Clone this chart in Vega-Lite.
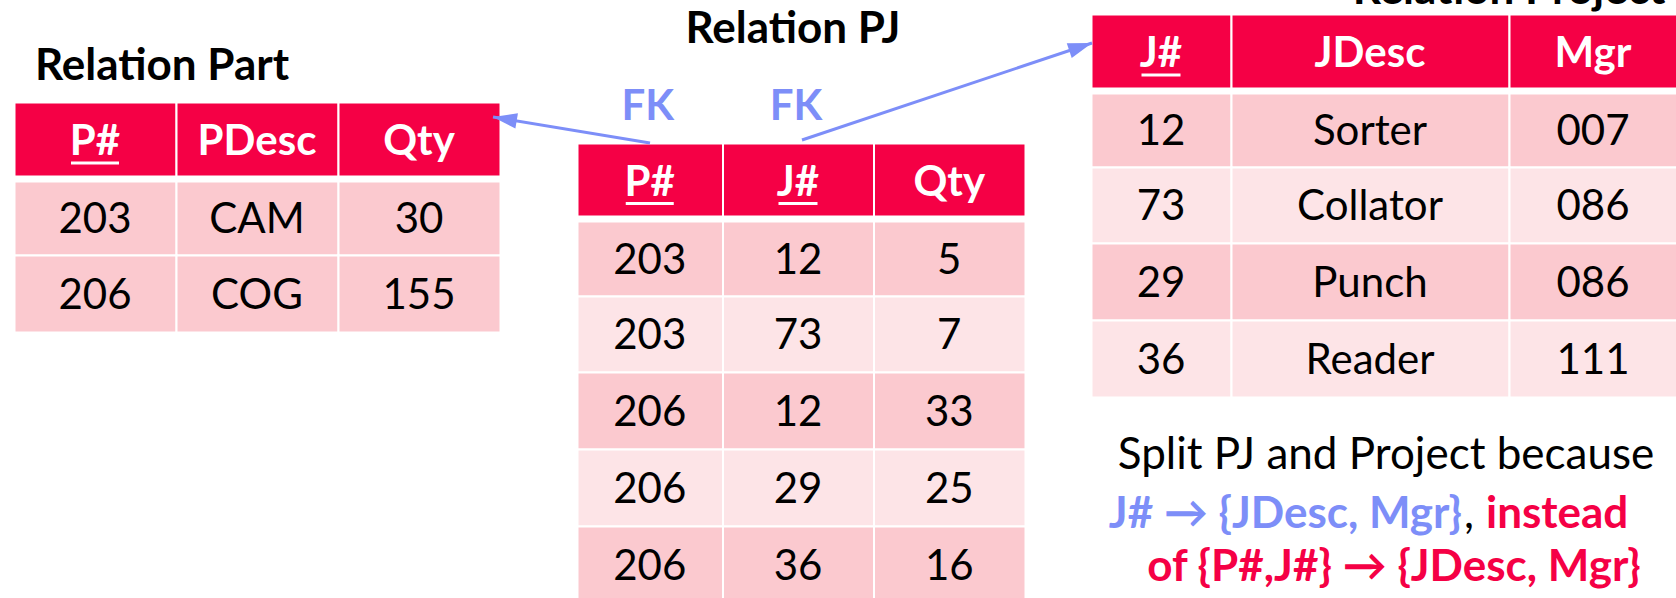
{
  "$schema": "https://vega.github.io/schema/vega-lite/v6.json",
  "width": 1676,
  "height": 598,
  "padding": 0,
  "autosize": {"type": "none"},
  "background": "white",
  "config": {"view": {"stroke": null}, "text": {"font": "Lato"}},
  "datasets": {
    "cells": [
      {"table": "Part", "r": 0, "c": 0, "v": "P#", "key": true},
      {"table": "Part", "r": 0, "c": 1, "v": "PDesc", "key": false},
      {"table": "Part", "r": 0, "c": 2, "v": "Qty", "key": false},
      {"table": "Part", "r": 1, "c": 0, "v": "203"},
      {"table": "Part", "r": 1, "c": 1, "v": "CAM"},
      {"table": "Part", "r": 1, "c": 2, "v": "30"},
      {"table": "Part", "r": 2, "c": 0, "v": "206"},
      {"table": "Part", "r": 2, "c": 1, "v": "COG"},
      {"table": "Part", "r": 2, "c": 2, "v": "155"},
      {"table": "PJ", "r": 0, "c": 0, "v": "P#", "key": true},
      {"table": "PJ", "r": 0, "c": 1, "v": "J#", "key": true},
      {"table": "PJ", "r": 0, "c": 2, "v": "Qty", "key": false},
      {"table": "PJ", "r": 1, "c": 0, "v": "203"},
      {"table": "PJ", "r": 1, "c": 1, "v": "12"},
      {"table": "PJ", "r": 1, "c": 2, "v": "5"},
      {"table": "PJ", "r": 2, "c": 0, "v": "203"},
      {"table": "PJ", "r": 2, "c": 1, "v": "73"},
      {"table": "PJ", "r": 2, "c": 2, "v": "7"},
      {"table": "PJ", "r": 3, "c": 0, "v": "206"},
      {"table": "PJ", "r": 3, "c": 1, "v": "12"},
      {"table": "PJ", "r": 3, "c": 2, "v": "33"},
      {"table": "PJ", "r": 4, "c": 0, "v": "206"},
      {"table": "PJ", "r": 4, "c": 1, "v": "29"},
      {"table": "PJ", "r": 4, "c": 2, "v": "25"},
      {"table": "PJ", "r": 5, "c": 0, "v": "206"},
      {"table": "PJ", "r": 5, "c": 1, "v": "36"},
      {"table": "PJ", "r": 5, "c": 2, "v": "16"},
      {"table": "Project", "r": 0, "c": 0, "v": "J#", "key": true},
      {"table": "Project", "r": 0, "c": 1, "v": "JDesc", "key": false},
      {"table": "Project", "r": 0, "c": 2, "v": "Mgr", "key": false},
      {"table": "Project", "r": 1, "c": 0, "v": "12"},
      {"table": "Project", "r": 1, "c": 1, "v": "Sorter"},
      {"table": "Project", "r": 1, "c": 2, "v": "007"},
      {"table": "Project", "r": 2, "c": 0, "v": "73"},
      {"table": "Project", "r": 2, "c": 1, "v": "Collator"},
      {"table": "Project", "r": 2, "c": 2, "v": "086"},
      {"table": "Project", "r": 3, "c": 0, "v": "29"},
      {"table": "Project", "r": 3, "c": 1, "v": "Punch"},
      {"table": "Project", "r": 3, "c": 2, "v": "086"},
      {"table": "Project", "r": 4, "c": 0, "v": "36"},
      {"table": "Project", "r": 4, "c": 1, "v": "Reader"},
      {"table": "Project", "r": 4, "c": 2, "v": "111"}
    ],
    "labels": [
      {"table": "Part", "kind": "title", "c": 0, "r": -1, "text": "Relation Part"},
      {"table": "PJ", "kind": "title", "c": 1, "r": -2, "text": "Relation PJ"},
      {"table": "PJ", "kind": "fk", "c": 0, "r": -1, "text": "FK"},
      {"table": "PJ", "kind": "fk", "c": 1, "r": -1, "text": "FK"},
      {"table": "Project", "kind": "title", "c": 2, "r": -1, "text": "Relation Project"}
    ],
    "arrows": [
      {"arrow": "P#", "a": 0},
      {"arrow": "P#", "a": 1},
      {"arrow": "J#", "a": 2},
      {"arrow": "J#", "a": 3}
    ],
    "notes": [
      {"a": 4, "seg": "lead", "tone": "plain", "text": "Split PJ and Project because"},
      {"a": 5, "seg": "fd", "tone": "fd", "text": "J# → {JDesc, Mgr}"},
      {"a": 5, "seg": "comma", "tone": "plain", "text": ","},
      {"a": 5, "seg": "instead", "tone": "bad", "text": "instead"},
      {"a": 6, "seg": "tail", "tone": "bad", "text": "of {P#,J#} → {JDesc, Mgr}"}
    ]
  },
  "layer": [
    {
      "layer": [
        {
          "data": {"name": "cells"},
          "transform": [{"filter": "datum.table === 'Part' && datum.r === 0"}],
          "mark": {"type": "rect", "fill": "#F50045", "stroke": "white", "strokeWidth": 2, "binSpacing": 0, "yOffset": -5, "y2Offset": -5},
          "encoding": {
            "x": {"field": "c", "type": "quantitative", "bin": {"step": 1, "extent": [0, 3]}, "scale": {"domain": [0, 1, 2, 3], "range": [14, 176, 338, 500], "zero": false, "nice": false}, "axis": null},
            "y": {"field": "r", "type": "quantitative", "bin": {"step": 1, "extent": [0, 3]}, "scale": {"domain": [-1, 0, 1, 2, 3], "range": [80, 107, 181, 255, 332], "zero": false, "nice": false}, "axis": null}
          }
        },
        {
          "data": {"name": "cells"},
          "transform": [{"filter": "datum.table === 'Part' && datum.r > 0"}],
          "mark": {"type": "rect", "stroke": "white", "strokeWidth": 2, "binSpacing": 0},
          "encoding": {
            "x": {"field": "c", "type": "quantitative", "bin": {"step": 1, "extent": [0, 3]}, "scale": {"domain": [0, 1, 2, 3], "range": [14, 176, 338, 500], "zero": false, "nice": false}, "axis": null},
            "y": {"field": "r", "type": "quantitative", "bin": {"step": 1, "extent": [0, 3]}, "scale": {"domain": [-1, 0, 1, 2, 3], "range": [80, 107, 181, 255, 332], "zero": false, "nice": false}, "axis": null},
            "fill": {"field": "r", "type": "ordinal", "scale": {"domain": [1, 2], "range": ["#FBC9CF", "#FBC9CF"]}, "legend": null}
          }
        },
        {
          "data": {"name": "cells"},
          "transform": [{"filter": "datum.table === 'Part' && datum.r === 0"}],
          "mark": {"type": "text", "font": "Lato", "fontSize": 42, "fontWeight": "bold", "fill": "white", "align": "center", "baseline": "alphabetic", "dy": 11},
          "encoding": {
            "x": {"field": "c", "type": "quantitative", "bin": {"step": 1, "extent": [0, 3]}, "scale": {"domain": [0, 1, 2, 3], "range": [14, 176, 338, 500], "zero": false, "nice": false}, "axis": null},
            "y": {"field": "r", "type": "quantitative", "bin": {"step": 1, "extent": [0, 3]}, "scale": {"domain": [-1, 0, 1, 2, 3], "range": [80, 107, 181, 255, 332], "zero": false, "nice": false}, "axis": null},
            "text": {"field": "v"}
          }
        },
        {
          "data": {"name": "cells"},
          "transform": [{"filter": "datum.table === 'Part' && datum.r > 0"}],
          "mark": {"type": "text", "font": "Lato", "fontSize": 42, "fill": "black", "align": "center", "baseline": "alphabetic", "dy": 15},
          "encoding": {
            "x": {"field": "c", "type": "quantitative", "bin": {"step": 1, "extent": [0, 3]}, "scale": {"domain": [0, 1, 2, 3], "range": [14, 176, 338, 500], "zero": false, "nice": false}, "axis": null},
            "y": {"field": "r", "type": "quantitative", "bin": {"step": 1, "extent": [0, 3]}, "scale": {"domain": [-1, 0, 1, 2, 3], "range": [80, 107, 181, 255, 332], "zero": false, "nice": false}, "axis": null},
            "text": {"field": "v"}
          }
        },
        {
          "data": {"name": "cells"},
          "transform": [{"filter": "datum.table === 'Part' && datum.r === 0 && datum.key && datum.v === 'P#'"}],
          "mark": {"type": "tick", "orient": "horizontal", "size": 48, "thickness": 3, "color": "white", "opacity": 1, "yOffset": 19},
          "encoding": {
            "x": {"field": "c", "type": "quantitative", "bin": {"step": 1, "extent": [0, 3]}, "scale": {"domain": [0, 1, 2, 3], "range": [14, 176, 338, 500], "zero": false, "nice": false}, "axis": null},
            "y": {"field": "r", "type": "quantitative", "bin": {"step": 1, "extent": [0, 3]}, "scale": {"domain": [-1, 0, 1, 2, 3], "range": [80, 107, 181, 255, 332], "zero": false, "nice": false}, "axis": null}
          }
        },
        {
          "data": {"name": "labels"},
          "transform": [{"filter": "datum.table === 'Part'"}],
          "mark": {"type": "text", "font": "Lato", "fontSize": 44, "fontWeight": "bold", "fill": "black", "align": "left", "baseline": "alphabetic", "dx": 21},
          "encoding": {
            "x": {"field": "c", "type": "quantitative", "scale": {"domain": [0, 1, 2, 3], "range": [14, 176, 338, 500], "zero": false, "nice": false}, "axis": null},
            "y": {"field": "r", "type": "quantitative", "scale": {"domain": [-1, 0, 1, 2, 3], "range": [80, 107, 181, 255, 332], "zero": false, "nice": false}, "axis": null},
            "text": {"field": "text"}
          }
        }
      ]
    },
    {
      "layer": [
        {
          "data": {"name": "cells"},
          "transform": [{"filter": "datum.table === 'PJ' && datum.r === 0"}],
          "mark": {"type": "rect", "fill": "#F50045", "stroke": "white", "strokeWidth": 2, "binSpacing": 0, "yOffset": -5, "y2Offset": -5},
          "encoding": {
            "x": {"field": "c", "type": "quantitative", "bin": {"step": 1, "extent": [0, 3]}, "scale": {"domain": [0, 1, 2, 3], "range": [577, 722.5, 873.5, 1025], "zero": false, "nice": false}, "axis": null},
            "y": {"field": "r", "type": "quantitative", "bin": {"step": 1, "extent": [0, 6]}, "scale": {"domain": [-2, -1, 0, 1, 2, 3, 4, 5, 6], "range": [43, 120, 148, 221, 296, 372, 449, 526, 604], "zero": false, "nice": false}, "axis": null}
          }
        },
        {
          "data": {"name": "cells"},
          "transform": [{"filter": "datum.table === 'PJ' && datum.r > 0"}],
          "mark": {"type": "rect", "stroke": "white", "strokeWidth": 2, "binSpacing": 0},
          "encoding": {
            "x": {"field": "c", "type": "quantitative", "bin": {"step": 1, "extent": [0, 3]}, "scale": {"domain": [0, 1, 2, 3], "range": [577, 722.5, 873.5, 1025], "zero": false, "nice": false}, "axis": null},
            "y": {"field": "r", "type": "quantitative", "bin": {"step": 1, "extent": [0, 6]}, "scale": {"domain": [-2, -1, 0, 1, 2, 3, 4, 5, 6], "range": [43, 120, 148, 221, 296, 372, 449, 526, 604], "zero": false, "nice": false}, "axis": null},
            "fill": {"field": "r", "type": "ordinal", "scale": {"domain": [1, 2, 3, 4, 5], "range": ["#FBC9CF", "#FDE4E7", "#FBC9CF", "#FDE4E7", "#FBC9CF"]}, "legend": null}
          }
        },
        {
          "data": {"name": "cells"},
          "transform": [{"filter": "datum.table === 'PJ' && datum.r === 0"}],
          "mark": {"type": "text", "font": "Lato", "fontSize": 42, "fontWeight": "bold", "fill": "white", "align": "center", "baseline": "alphabetic", "dy": 11},
          "encoding": {
            "x": {"field": "c", "type": "quantitative", "bin": {"step": 1, "extent": [0, 3]}, "scale": {"domain": [0, 1, 2, 3], "range": [577, 722.5, 873.5, 1025], "zero": false, "nice": false}, "axis": null},
            "y": {"field": "r", "type": "quantitative", "bin": {"step": 1, "extent": [0, 6]}, "scale": {"domain": [-2, -1, 0, 1, 2, 3, 4, 5, 6], "range": [43, 120, 148, 221, 296, 372, 449, 526, 604], "zero": false, "nice": false}, "axis": null},
            "text": {"field": "v"}
          }
        },
        {
          "data": {"name": "cells"},
          "transform": [{"filter": "datum.table === 'PJ' && datum.r > 0"}],
          "mark": {"type": "text", "font": "Lato", "fontSize": 42, "fill": "black", "align": "center", "baseline": "alphabetic", "dy": 15},
          "encoding": {
            "x": {"field": "c", "type": "quantitative", "bin": {"step": 1, "extent": [0, 3]}, "scale": {"domain": [0, 1, 2, 3], "range": [577, 722.5, 873.5, 1025], "zero": false, "nice": false}, "axis": null},
            "y": {"field": "r", "type": "quantitative", "bin": {"step": 1, "extent": [0, 6]}, "scale": {"domain": [-2, -1, 0, 1, 2, 3, 4, 5, 6], "range": [43, 120, 148, 221, 296, 372, 449, 526, 604], "zero": false, "nice": false}, "axis": null},
            "text": {"field": "v"}
          }
        },
        {
          "data": {"name": "cells"},
          "transform": [{"filter": "datum.table === 'PJ' && datum.r === 0 && datum.key && datum.v === 'P#'"}],
          "mark": {"type": "tick", "orient": "horizontal", "size": 48, "thickness": 3, "color": "white", "opacity": 1, "yOffset": 19},
          "encoding": {
            "x": {"field": "c", "type": "quantitative", "bin": {"step": 1, "extent": [0, 3]}, "scale": {"domain": [0, 1, 2, 3], "range": [577, 722.5, 873.5, 1025], "zero": false, "nice": false}, "axis": null},
            "y": {"field": "r", "type": "quantitative", "bin": {"step": 1, "extent": [0, 6]}, "scale": {"domain": [-2, -1, 0, 1, 2, 3, 4, 5, 6], "range": [43, 120, 148, 221, 296, 372, 449, 526, 604], "zero": false, "nice": false}, "axis": null}
          }
        },
        {
          "data": {"name": "cells"},
          "transform": [{"filter": "datum.table === 'PJ' && datum.r === 0 && datum.key && datum.v === 'J#'"}],
          "mark": {"type": "tick", "orient": "horizontal", "size": 39, "thickness": 3, "color": "white", "opacity": 1, "yOffset": 19},
          "encoding": {
            "x": {"field": "c", "type": "quantitative", "bin": {"step": 1, "extent": [0, 3]}, "scale": {"domain": [0, 1, 2, 3], "range": [577, 722.5, 873.5, 1025], "zero": false, "nice": false}, "axis": null},
            "y": {"field": "r", "type": "quantitative", "bin": {"step": 1, "extent": [0, 6]}, "scale": {"domain": [-2, -1, 0, 1, 2, 3, 4, 5, 6], "range": [43, 120, 148, 221, 296, 372, 449, 526, 604], "zero": false, "nice": false}, "axis": null}
          }
        },
        {
          "data": {"name": "labels"},
          "transform": [{"filter": "datum.table === 'PJ' && datum.kind === 'title'"}],
          "mark": {"type": "text", "font": "Lato", "fontSize": 44, "fontWeight": "bold", "fill": "black", "align": "center", "baseline": "alphabetic", "dx": -5},
          "encoding": {
            "x": {"field": "c", "type": "quantitative", "bin": {"step": 1, "extent": [0, 3]}, "scale": {"domain": [0, 1, 2, 3], "range": [577, 722.5, 873.5, 1025], "zero": false, "nice": false}, "axis": null},
            "y": {"field": "r", "type": "quantitative", "scale": {"domain": [-2, -1, 0, 1, 2, 3, 4, 5, 6], "range": [43, 120, 148, 221, 296, 372, 449, 526, 604], "zero": false, "nice": false}, "axis": null},
            "text": {"field": "text"}
          }
        },
        {
          "data": {"name": "labels"},
          "transform": [{"filter": "datum.table === 'PJ' && datum.kind === 'fk'"}],
          "mark": {"type": "text", "font": "Lato", "fontSize": 42, "fontWeight": "bold", "fill": "#7D8EF8", "align": "center", "baseline": "alphabetic", "dx": -2},
          "encoding": {
            "x": {"field": "c", "type": "quantitative", "bin": {"step": 1, "extent": [0, 3]}, "scale": {"domain": [0, 1, 2, 3], "range": [577, 722.5, 873.5, 1025], "zero": false, "nice": false}, "axis": null},
            "y": {"field": "r", "type": "quantitative", "scale": {"domain": [-2, -1, 0, 1, 2, 3, 4, 5, 6], "range": [43, 120, 148, 221, 296, 372, 449, 526, 604], "zero": false, "nice": false}, "axis": null},
            "text": {"field": "text"}
          }
        }
      ]
    },
    {
      "layer": [
        {
          "data": {"name": "cells"},
          "transform": [{"filter": "datum.table === 'Project' && datum.r === 0"}],
          "mark": {"type": "rect", "fill": "#F50045", "stroke": "white", "strokeWidth": 2, "binSpacing": 0, "yOffset": -5, "y2Offset": -5},
          "encoding": {
            "x": {"field": "c", "type": "quantitative", "bin": {"step": 1, "extent": [0, 3]}, "scale": {"domain": [0, 1, 2, 3], "range": [1091, 1231, 1509, 1677], "zero": false, "nice": false}, "axis": null},
            "y": {"field": "r", "type": "quantitative", "bin": {"step": 1, "extent": [0, 5]}, "scale": {"domain": [-1, 0, 1, 2, 3, 4, 5], "range": [4, 19, 93, 167, 243, 320, 397], "zero": false, "nice": false}, "axis": null}
          }
        },
        {
          "data": {"name": "cells"},
          "transform": [{"filter": "datum.table === 'Project' && datum.r > 0"}],
          "mark": {"type": "rect", "stroke": "white", "strokeWidth": 2, "binSpacing": 0},
          "encoding": {
            "x": {"field": "c", "type": "quantitative", "bin": {"step": 1, "extent": [0, 3]}, "scale": {"domain": [0, 1, 2, 3], "range": [1091, 1231, 1509, 1677], "zero": false, "nice": false}, "axis": null},
            "y": {"field": "r", "type": "quantitative", "bin": {"step": 1, "extent": [0, 5]}, "scale": {"domain": [-1, 0, 1, 2, 3, 4, 5], "range": [4, 19, 93, 167, 243, 320, 397], "zero": false, "nice": false}, "axis": null},
            "fill": {"field": "r", "type": "ordinal", "scale": {"domain": [1, 2, 3, 4], "range": ["#FBC9CF", "#FDE4E7", "#FBC9CF", "#FDE4E7"]}, "legend": null}
          }
        },
        {
          "data": {"name": "cells"},
          "transform": [{"filter": "datum.table === 'Project' && datum.r === 0"}],
          "mark": {"type": "text", "font": "Lato", "fontSize": 42, "fontWeight": "bold", "fill": "white", "align": "center", "baseline": "alphabetic", "dy": 11},
          "encoding": {
            "x": {"field": "c", "type": "quantitative", "bin": {"step": 1, "extent": [0, 3]}, "scale": {"domain": [0, 1, 2, 3], "range": [1091, 1231, 1509, 1677], "zero": false, "nice": false}, "axis": null},
            "y": {"field": "r", "type": "quantitative", "bin": {"step": 1, "extent": [0, 5]}, "scale": {"domain": [-1, 0, 1, 2, 3, 4, 5], "range": [4, 19, 93, 167, 243, 320, 397], "zero": false, "nice": false}, "axis": null},
            "text": {"field": "v"}
          }
        },
        {
          "data": {"name": "cells"},
          "transform": [{"filter": "datum.table === 'Project' && datum.r > 0"}],
          "mark": {"type": "text", "font": "Lato", "fontSize": 42, "fill": "black", "align": "center", "baseline": "alphabetic", "dy": 15},
          "encoding": {
            "x": {"field": "c", "type": "quantitative", "bin": {"step": 1, "extent": [0, 3]}, "scale": {"domain": [0, 1, 2, 3], "range": [1091, 1231, 1509, 1677], "zero": false, "nice": false}, "axis": null},
            "y": {"field": "r", "type": "quantitative", "bin": {"step": 1, "extent": [0, 5]}, "scale": {"domain": [-1, 0, 1, 2, 3, 4, 5], "range": [4, 19, 93, 167, 243, 320, 397], "zero": false, "nice": false}, "axis": null},
            "text": {"field": "v"}
          }
        },
        {
          "data": {"name": "cells"},
          "transform": [{"filter": "datum.table === 'Project' && datum.r === 0 && datum.key && datum.v === 'J#'"}],
          "mark": {"type": "tick", "orient": "horizontal", "size": 39, "thickness": 3, "color": "white", "opacity": 1, "yOffset": 19},
          "encoding": {
            "x": {"field": "c", "type": "quantitative", "bin": {"step": 1, "extent": [0, 3]}, "scale": {"domain": [0, 1, 2, 3], "range": [1091, 1231, 1509, 1677], "zero": false, "nice": false}, "axis": null},
            "y": {"field": "r", "type": "quantitative", "bin": {"step": 1, "extent": [0, 5]}, "scale": {"domain": [-1, 0, 1, 2, 3, 4, 5], "range": [4, 19, 93, 167, 243, 320, 397], "zero": false, "nice": false}, "axis": null}
          }
        },
        {
          "data": {"name": "labels"},
          "transform": [{"filter": "datum.table === 'Project'"}],
          "mark": {"type": "text", "font": "Lato", "fontSize": 44, "fontWeight": "bold", "fill": "black", "align": "center", "baseline": "alphabetic"},
          "encoding": {
            "x": {"field": "c", "type": "quantitative", "scale": {"domain": [0, 1, 2, 3], "range": [1091, 1231, 1509, 1677], "zero": false, "nice": false}, "axis": null},
            "y": {"field": "r", "type": "quantitative", "scale": {"domain": [-1, 0, 1, 2, 3, 4, 5], "range": [4, 19, 93, 167, 243, 320, 397], "zero": false, "nice": false}, "axis": null},
            "text": {"field": "text"}
          }
        }
      ]
    },
    {
      "layer": [
        {
          "data": {"name": "arrows"},
          "mark": {"type": "line", "stroke": "#7D8EF8", "strokeWidth": 3, "strokeCap": "butt"},
          "encoding": {
            "x": {"field": "a", "type": "quantitative", "scale": {"domain": [0, 1, 2, 3, 4, 5, 6], "range": [650, 493, 802, 1092, 1386, 1462, 1394], "zero": false, "nice": false}, "axis": null},
            "y": {"field": "a", "type": "quantitative", "scale": {"domain": [0, 1, 2, 3, 4, 5, 6], "range": [143, 117, 140, 43, 469, 528, 581], "zero": false, "nice": false}, "axis": null},
            "detail": {"field": "arrow", "type": "nominal"},
            "order": {"field": "a", "type": "quantitative"}
          }
        },
        {
          "data": {"name": "arrows"},
          "transform": [{"filter": "datum.a === 1"}],
          "mark": {"type": "point", "shape": "M0,0L0.65,2L-0.65,2Z", "size": 576, "filled": true, "fill": "#7D8EF8", "strokeWidth": 0, "opacity": 1, "angle": 279.4},
          "encoding": {
            "x": {"field": "a", "type": "quantitative", "scale": {"domain": [0, 1, 2, 3, 4, 5, 6], "range": [650, 493, 802, 1092, 1386, 1462, 1394], "zero": false, "nice": false}, "axis": null},
            "y": {"field": "a", "type": "quantitative", "scale": {"domain": [0, 1, 2, 3, 4, 5, 6], "range": [143, 117, 140, 43, 469, 528, 581], "zero": false, "nice": false}, "axis": null}
          }
        },
        {
          "data": {"name": "arrows"},
          "transform": [{"filter": "datum.a === 3"}],
          "mark": {"type": "point", "shape": "M0,0L0.65,2L-0.65,2Z", "size": 576, "filled": true, "fill": "#7D8EF8", "strokeWidth": 0, "opacity": 1, "angle": 71.5},
          "encoding": {
            "x": {"field": "a", "type": "quantitative", "scale": {"domain": [0, 1, 2, 3, 4, 5, 6], "range": [650, 493, 802, 1092, 1386, 1462, 1394], "zero": false, "nice": false}, "axis": null},
            "y": {"field": "a", "type": "quantitative", "scale": {"domain": [0, 1, 2, 3, 4, 5, 6], "range": [143, 117, 140, 43, 469, 528, 581], "zero": false, "nice": false}, "axis": null}
          }
        },
        {
          "data": {"name": "notes"},
          "transform": [{"filter": "datum.seg === 'lead'"}],
          "mark": {"type": "text", "font": "Lato", "fontSize": 44, "align": "center", "baseline": "alphabetic"},
          "encoding": {
            "x": {"field": "a", "type": "quantitative", "scale": {"domain": [0, 1, 2, 3, 4, 5, 6], "range": [650, 493, 802, 1092, 1386, 1462, 1394], "zero": false, "nice": false}, "axis": null},
            "y": {"field": "a", "type": "quantitative", "scale": {"domain": [0, 1, 2, 3, 4, 5, 6], "range": [143, 117, 140, 43, 469, 528, 581], "zero": false, "nice": false}, "axis": null},
            "text": {"field": "text"},
            "fill": {"field": "tone", "type": "nominal", "scale": {"domain": ["plain", "fd", "bad"], "range": ["#000000", "#7D8EF8", "#F50045"]}, "legend": null}
          }
        },
        {
          "data": {"name": "notes"},
          "transform": [{"filter": "datum.seg === 'fd'"}],
          "mark": {"type": "text", "font": "Lato", "fontSize": 44, "fontWeight": "bold", "align": "right", "baseline": "alphabetic"},
          "encoding": {
            "x": {"field": "a", "type": "quantitative", "scale": {"domain": [0, 1, 2, 3, 4, 5, 6], "range": [650, 493, 802, 1092, 1386, 1462, 1394], "zero": false, "nice": false}, "axis": null},
            "y": {"field": "a", "type": "quantitative", "scale": {"domain": [0, 1, 2, 3, 4, 5, 6], "range": [143, 117, 140, 43, 469, 528, 581], "zero": false, "nice": false}, "axis": null},
            "text": {"field": "text"},
            "fill": {"field": "tone", "type": "nominal", "scale": {"domain": ["plain", "fd", "bad"], "range": ["#000000", "#7D8EF8", "#F50045"]}, "legend": null}
          }
        },
        {
          "data": {"name": "notes"},
          "transform": [{"filter": "datum.seg === 'comma'"}],
          "mark": {"type": "text", "font": "Lato", "fontSize": 44, "align": "left", "baseline": "alphabetic", "dx": 2},
          "encoding": {
            "x": {"field": "a", "type": "quantitative", "scale": {"domain": [0, 1, 2, 3, 4, 5, 6], "range": [650, 493, 802, 1092, 1386, 1462, 1394], "zero": false, "nice": false}, "axis": null},
            "y": {"field": "a", "type": "quantitative", "scale": {"domain": [0, 1, 2, 3, 4, 5, 6], "range": [143, 117, 140, 43, 469, 528, 581], "zero": false, "nice": false}, "axis": null},
            "text": {"field": "text"},
            "fill": {"field": "tone", "type": "nominal", "scale": {"domain": ["plain", "fd", "bad"], "range": ["#000000", "#7D8EF8", "#F50045"]}, "legend": null}
          }
        },
        {
          "data": {"name": "notes"},
          "transform": [{"filter": "datum.seg === 'instead'"}],
          "mark": {"type": "text", "font": "Lato", "fontSize": 44, "fontWeight": "bold", "align": "left", "baseline": "alphabetic", "dx": 24},
          "encoding": {
            "x": {"field": "a", "type": "quantitative", "scale": {"domain": [0, 1, 2, 3, 4, 5, 6], "range": [650, 493, 802, 1092, 1386, 1462, 1394], "zero": false, "nice": false}, "axis": null},
            "y": {"field": "a", "type": "quantitative", "scale": {"domain": [0, 1, 2, 3, 4, 5, 6], "range": [143, 117, 140, 43, 469, 528, 581], "zero": false, "nice": false}, "axis": null},
            "text": {"field": "text"},
            "fill": {"field": "tone", "type": "nominal", "scale": {"domain": ["plain", "fd", "bad"], "range": ["#000000", "#7D8EF8", "#F50045"]}, "legend": null}
          }
        },
        {
          "data": {"name": "notes"},
          "transform": [{"filter": "datum.seg === 'tail'"}],
          "mark": {"type": "text", "font": "Lato", "fontSize": 44, "fontWeight": "bold", "align": "center", "baseline": "alphabetic"},
          "encoding": {
            "x": {"field": "a", "type": "quantitative", "scale": {"domain": [0, 1, 2, 3, 4, 5, 6], "range": [650, 493, 802, 1092, 1386, 1462, 1394], "zero": false, "nice": false}, "axis": null},
            "y": {"field": "a", "type": "quantitative", "scale": {"domain": [0, 1, 2, 3, 4, 5, 6], "range": [143, 117, 140, 43, 469, 528, 581], "zero": false, "nice": false}, "axis": null},
            "text": {"field": "text"},
            "fill": {"field": "tone", "type": "nominal", "scale": {"domain": ["plain", "fd", "bad"], "range": ["#000000", "#7D8EF8", "#F50045"]}, "legend": null}
          }
        }
      ]
    }
  ],
  "resolve": {"scale": {"x": "independent", "y": "independent", "fill": "independent"}}
}
